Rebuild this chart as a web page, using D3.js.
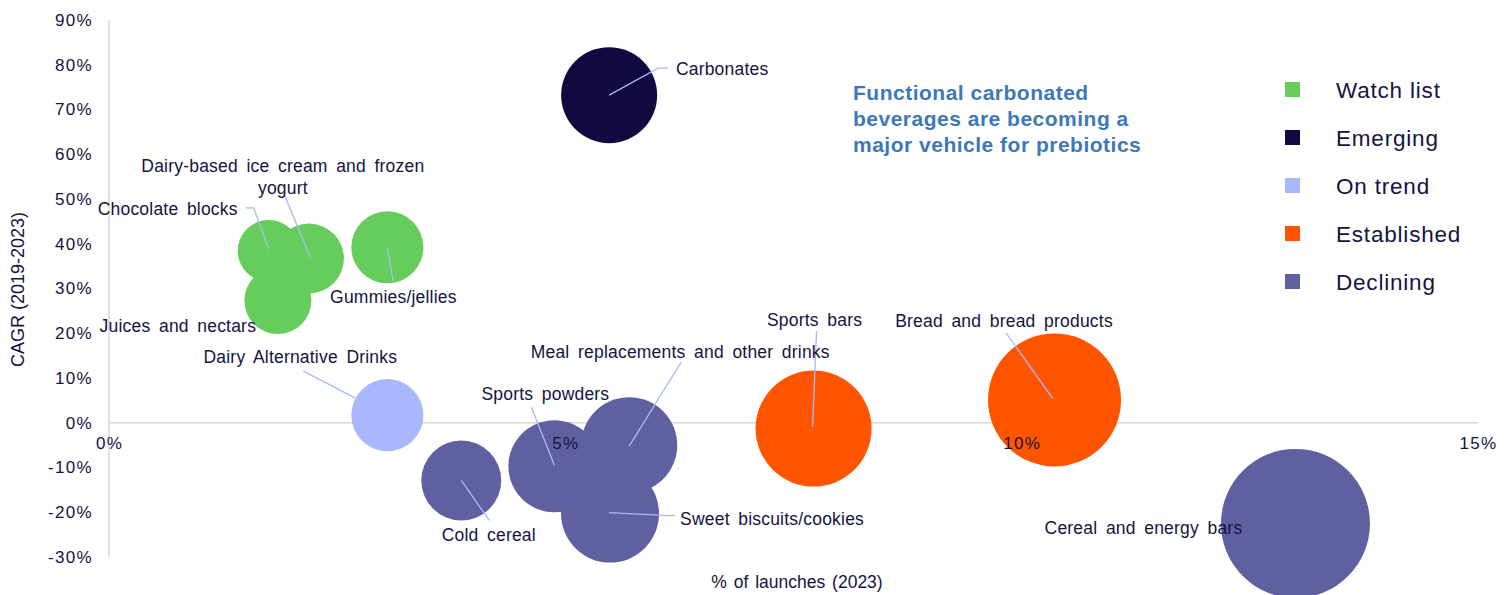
<!DOCTYPE html>
<html>
<head>
<meta charset="utf-8">
<script src="https://cdn.jsdelivr.net/npm/d3@7"></script>
<style>
  html, body { margin: 0; padding: 0; background: #ffffff; }
  svg { display: block; font-family: "Liberation Sans", Arial, sans-serif; }
</style>
</head>
<body>
<svg id="chart" width="1510" height="595"></svg>
<script>
// Product categories with prebiotic claims
const categories = [
  "Carbonates",
  "Chocolate blocks",
  "Dairy-based ice cream and frozen yogurt",
  "Juices and nectars",
  "Gummies/jellies",
  "Dairy Alternative Drinks",
  "Cold cereal",
  "Sports powders",
  "Meal replacements and other drinks",
  "Sweet biscuits/cookies",
  "Sports bars",
  "Bread and bread products",
  "Cereal and energy bars"
];
// % of launches (2023)
const launchShare = [5.48, 1.75, 2.19, 1.85, 3.05, 3.05, 3.86, 4.88, 5.70, 5.49, 7.72, 10.36, 13.0];
// CAGR 2019-2023 (%)
const cagr = [73.2, 38.4, 36.7, 27.3, 39.2, 1.7, -12.9, -9.7, -5.0, -20.3, -1.3, 5.1, -22.5];
// Bubble size (relative volume)
const bubbleSize = [41.5, 17.3, 22.1, 20.2, 23.4, 23.4, 28.8, 38.1, 41.5, 43.3, 60.6, 79.7, 100];
// Trend group of each category
const group = ["Emerging", "Watch list", "Watch list", "Watch list", "Watch list", "On trend",
  "Declining", "Declining", "Declining", "Declining", "Established", "Established", "Declining"];

const legendGroups = ["Watch list", "Emerging", "On trend", "Established", "Declining"];
const xTicks = [0, 5, 10, 15];
const yTicks = [-30, -20, -10, 0, 10, 20, 30, 40, 50, 60, 70, 80, 90];

const groupColor = d3.scaleOrdinal()
  .domain(legendGroups)
  .range(["#66cc5c", "#100a40", "#a9b8fc", "#ff5500", "#5f60a0"]);

const textColor = "#15133f";
const leaderColor = "#a9b8fc";
const gridColor = "#d9d9d9";

const svg = d3.select("#chart");

const x = d3.scaleLinear().domain([0, 15]).range([109, 1478]);
const y = d3.scaleLinear().domain([-30, 90]).range([557, 20]);
const r = d3.scaleSqrt().domain([0, 100]).range([0, 74.5]);

// axes: vertical at x = 0, horizontal at y = 0
svg.append("line")
  .attr("x1", x(0)).attr("x2", x(0))
  .attr("y1", y(90)).attr("y2", y(-30))
  .attr("stroke", gridColor).attr("stroke-width", 1.5);
svg.append("line")
  .attr("x1", x(0)).attr("x2", x(15))
  .attr("y1", y(0)).attr("y2", y(0))
  .attr("stroke", gridColor).attr("stroke-width", 1.5);

const data = categories.map((name, i) => ({
  name, x: launchShare[i], y: cagr[i], size: bubbleSize[i], group: group[i]
}));

// bubbles
svg.append("g").selectAll("circle")
  .data(data)
  .join("circle")
  .attr("cx", d => x(d.x))
  .attr("cy", d => y(d.y))
  .attr("r", d => r(d.size))
  .attr("fill", d => groupColor(d.group));

// y tick labels
const yAxis = d3.axisLeft(y).tickValues(yTicks).tickSize(0).tickPadding(16)
  .tickFormat(d => d + "%");
const gy = svg.append("g").attr("transform", `translate(${x(0)},0)`).call(yAxis);
gy.select(".domain").remove();
gy.selectAll("text")
  .attr("fill", textColor)
  .style("font-size", "17px")
  .style("letter-spacing", "1.3px")
  .style("font-family", "'Liberation Sans', Arial, sans-serif");

// Label placement (offset of text centre from bubble centre) and leader paths
const labelLayout = {
  "Carbonates": { dx: 113, dy: -26, leader: [[0, 0], [49, -27], [59, -27]] },
  "Chocolate blocks": { dx: -101, dy: -42, leader: [[0, -2], [-15, -43], [-23, -43]] },
  "Dairy-based ice cream and frozen yogurt": { dx: -26, dy: -82, lines: ["Dairy-based  ice cream and frozen", "yogurt"], leader: [[2, 0], [-25, -65]] },
  "Juices and nectars": { dx: -100, dy: 25.5, leader: null },
  "Gummies/jellies": { dx: 6, dy: 49.5, leader: [[0, 0], [6, 35]] },
  "Dairy Alternative Drinks": { dx: -87, dy: -58, leader: [[-32, -17], [-84, -44]] },
  "Cold cereal": { dx: 27.5, dy: 54.5, leader: [[0, 0], [28, 40]] },
  "Sports powders": { dx: -9, dy: -72, leader: [[0, -1], [-23, -59]] },
  "Meal replacements and other drinks": { dx: 51, dy: -93, leader: [[0, 1], [52, -83]] },
  "Sweet biscuits/cookies": { dx: 162, dy: 5, leader: [[-1, -1], [58, 2], [65, 2]] },
  "Sports bars": { dx: 1, dy: -108.5, leader: [[-1, -1.5], [3, -97.5]] },
  "Bread and bread products": { dx: -50.5, dy: -79, leader: [[-1.5, -1], [-48.5, -67]] },
  "Cereal and energy bars": { dx: -152, dy: 4.5, leader: null }
};

// leader lines
const leaderG = svg.append("g");
data.forEach(d => {
  const lay = labelLayout[d.name];
  if (!lay.leader) return;
  const cx = x(d.x), cy = y(d.y);
  leaderG.append("path")
    .attr("d", d3.line()(lay.leader.map(p => [cx + p[0], cy + p[1]])))
    .attr("fill", "none")
    .attr("stroke", leaderColor)
    .attr("stroke-width", 1.3);
});

// data labels
const labelG = svg.append("g")
  .style("font-size", "17.5px")
  .style("word-spacing", "3.5px")
  .style("letter-spacing", "0.2px")
  .attr("fill", textColor);
data.forEach(d => {
  const lay = labelLayout[d.name];
  const cx = x(d.x) + lay.dx, cy = y(d.y) + lay.dy;
  const lines = lay.lines || [d.name];
  const t = labelG.append("text")
    .attr("text-anchor", "middle")
    .attr("x", cx)
    .attr("y", cy - (lines.length - 1) * 11 + 6);
  lines.forEach((ln, k) => {
    t.append("tspan").attr("x", cx).attr("dy", k === 0 ? 0 : 22).text(ln);
  });
});

// x tick labels (drawn below the zero line, over the bubbles)
const xAxis = d3.axisBottom(x).tickValues(xTicks).tickSize(0).tickPadding(14)
  .tickFormat(d => d + "%");
const gx = svg.append("g").attr("transform", `translate(0,${y(0)})`).call(xAxis);
gx.select(".domain").remove();
gx.selectAll("text")
  .attr("fill", textColor)
  .style("font-size", "17px")
  .style("letter-spacing", "1.3px")
  .style("font-family", "'Liberation Sans', Arial, sans-serif");

// axis titles
svg.append("text")
  .attr("transform", `translate(24,${(y(90) + y(-30)) / 2 + 1}) rotate(-90)`)
  .attr("text-anchor", "middle")
  .attr("fill", textColor)
  .style("font-size", "18px")
  .text("CAGR (2019-2023)");
svg.append("text")
  .attr("x", 797).attr("y", 588)
  .attr("text-anchor", "middle")
  .attr("fill", textColor)
  .style("font-size", "17.5px")
  .style("word-spacing", "2px")
  .text("% of launches (2023)");

// callout
const callout = ["Functional carbonated", "beverages are becoming a", "major vehicle for prebiotics"];
svg.append("g").selectAll("text")
  .data(callout)
  .join("text")
  .attr("x", 853)
  .attr("y", (d, i) => 100 + i * 26)
  .attr("fill", "#3d78b8")
  .style("font-size", "21px")
  .style("font-weight", "bold")
  .style("letter-spacing", "0.5px")
  .text(d => d);

// legend
const legend = svg.append("g").attr("transform", "translate(1285,82)");
const item = legend.selectAll("g")
  .data(legendGroups)
  .join("g")
  .attr("transform", (d, i) => `translate(0,${i * 48})`);
item.append("rect")
  .attr("width", 15).attr("height", 15)
  .attr("fill", d => groupColor(d));
item.append("text")
  .attr("x", 51).attr("y", 15.5)
  .attr("fill", textColor)
  .style("font-size", "22.5px")
  .style("letter-spacing", "0.8px")
  .text(d => d);
</script>
</body>
</html>
